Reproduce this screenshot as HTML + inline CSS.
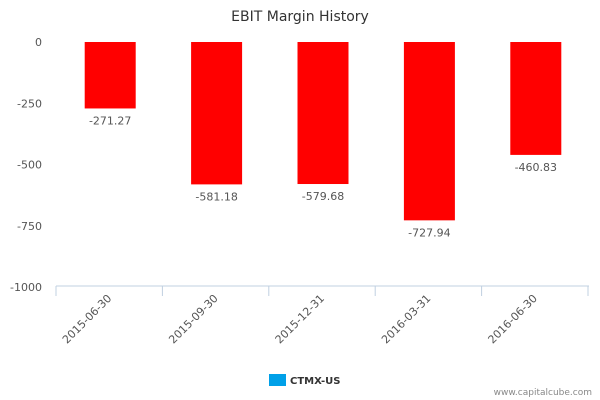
<!DOCTYPE html>
<html><head><meta charset="utf-8"><style>
body{margin:0;background:#fff;}
svg{display:block;font-family:"DejaVu Sans","Liberation Sans",sans-serif;}
</style></head><body>
<svg id="chart" width="600" height="400">
<text x="300" y="21" text-anchor="middle" font-size="14" fill="#333">EBIT Margin History</text>
<g id="yaxis"></g>
<g id="bars"></g>
<g id="xaxis"></g>
<g>
<rect x="269" y="374" width="17" height="12" fill="#00a0e8"/>
<text x="290" y="384" font-size="10" font-weight="bold" fill="#333">CTMX-US</text>
</g>
<text x="592" y="395" text-anchor="end" font-size="9" fill="#888">www.capitalcube.com</text>
</svg>
<script>
const categories=["2015-06-30","2015-09-30","2015-12-31","2016-03-31","2016-06-30"];
const values=[-271.27,-581.18,-579.68,-727.94,-460.83];
const yTicks=[0,-250,-500,-750,-1000];
const NS="http://www.w3.org/2000/svg";
const L=57,R=589,T=42,B=287;
const y=v=>T+(0-v)/1000*(B-T);
const bw=(R-L)/categories.length;
const x=i=>L+bw*(i+0.5);
function mk(tag,attrs,parent){const e=document.createElementNS(NS,tag);for(const k in attrs)e.setAttribute(k,attrs[k]);parent.appendChild(e);return e;}
const ya=document.getElementById('yaxis'),bg=document.getElementById('bars'),xa=document.getElementById('xaxis');
yTicks.forEach(t=>{const e=mk('text',{x:42,y:y(t)+4,'text-anchor':'end','font-size':11,fill:'#555'},ya);e.textContent=t;

});
values.forEach((v,i)=>{const r=mk('rect',{x:x(i)-25.5,y:y(0),width:51,height:y(v)-y(0),fill:'#ff0000'},bg);


const t=mk('text',{x:x(i),y:y(v)+16,'text-anchor':'middle','font-size':11,fill:'#555'},bg);t.textContent=v.toFixed(2);

});
const ax=mk('line',{x1:L-1,x2:R,y1:B-1,y2:B-1,stroke:'#c0d0e0','stroke-width':1},xa);


for(let i=0;i<=categories.length;i++){const tk=mk('line',{x1:L-1+bw*i,x2:L-1+bw*i,y1:B-1,y2:B+9,stroke:'#c0d0e0'},xa);

}
categories.forEach((c,i)=>{const t=mk('text',{x:x(i)+2,y:B+12,'text-anchor':'end','font-size':11,fill:'#555',transform:`rotate(-45 ${x(i)+2} ${B+12})`},xa);t.textContent=c;

});
</script>
</body></html>
